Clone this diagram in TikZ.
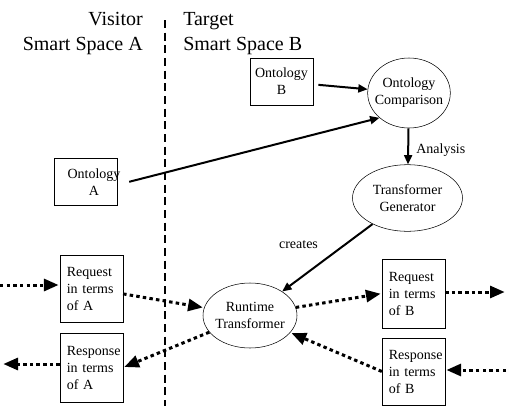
\documentclass[tikz,border=0pt]{standalone}
\usepackage{fontspec}
\setmainfont{Liberation Serif}
\usetikzlibrary{arrows.meta,shapes.geometric}

\begin{document}
\begin{tikzpicture}
[x=0.75pt,y=-0.75pt,font=\fontsize{10.5}{12.75}\selectfont,
 head/.style={font=\fontsize{15}{18.75}\selectfont,inner sep=0pt},
 box/.style={rectangle,draw=black,thin,minimum width=47pt,inner sep=0pt},
 msgbox/.style={box,inner xsep=5pt,text width=37pt,align=left,minimum height=50pt},
 blob/.style={ellipse,draw=black,thin,inner xsep=-4pt,inner ysep=0pt,align=center},
 link/.style={-{Triangle[length=7pt,width=6pt]},line width=1.5pt},
 msg/.style={-{Triangle[length=11pt,width=9pt]},line width=2.25pt,dash pattern=on 2.6pt off 2.4pt,shorten >=1pt}]
\useasboundingbox (0,0) rectangle (508,408);

% the two spaces
\node[head,anchor=north east,align=right] (visitor) at (143,12) {Visitor\\Smart Space A};
\node[head,anchor=north west,align=left] (target) at (183,12) {Target\\Smart Space B};
\draw[line width=1.5pt,dash pattern=on 6pt off 3.5pt] (165,20) -- (165,406);

% ontologies and transformers
\node[box,minimum height=35pt,align=center] (ontB) at (281.5,81.5) {Ontology\\B};
\node[box,minimum height=35pt,align=center,inner xsep=-3pt] (ontA) at (86,182) {\hspace*{12pt}Ontology\\\hspace*{12pt}A};
\node[blob,minimum width=62pt,minimum height=52.5pt] (cmp) at (409,93) {Ontology\\Comparison};
\node[blob,minimum width=82.5pt,minimum height=50pt] (gen) at (407.5,198) {Transformer\\Generator};
\node[blob,minimum width=70.5pt,minimum height=48.75pt] (run) at (250,315.5) {Runtime\\Transformer};

% messages
\node[msgbox] (reqA) at (91.5,288.5) {Request\\in terms\\of A};
\node[msgbox,minimum height=51.75pt] (resA) at (91.5,367.5) {Response\\in terms\\of A};
\node[msgbox,minimum height=51.75pt] (reqB) at (413.5,293.5) {Request\\in terms\\of B};
\node[msgbox] (resB) at (413.5,371.5) {Response\\in terms\\of B};

\coordinate (inA) at (0,285);
\coordinate (outA) at (2,364);
\coordinate (outB) at (506,292);
\coordinate (inB) at (506,370);

\draw[link,shorten <=4pt] (ontB) -- (cmp);
\draw[link,shorten <=9pt] (ontA.-5) -- (cmp.220);
\draw[link] (cmp) -- node[pos=0.6,right=2pt] {Analysis} (gen);
\draw[link] (gen) -- node[pos=0.5,above left=3pt] {creates} (run);

\draw[msg] (inA) -- (inA -| reqA.west);
\draw[msg] (reqA) -- (run);
\draw[msg] (run.10) -- (reqB.west);
\draw[msg] (reqB.east |- outB) -- (outB);
\draw[msg] (inB) -- (inB -| resB.east);
\draw[msg] (resB.west) -- (run);
\draw[msg] (run) -- (resA.east);
\draw[msg] (outA -| resA.west) -- (outA);
\end{tikzpicture}
\end{document}
